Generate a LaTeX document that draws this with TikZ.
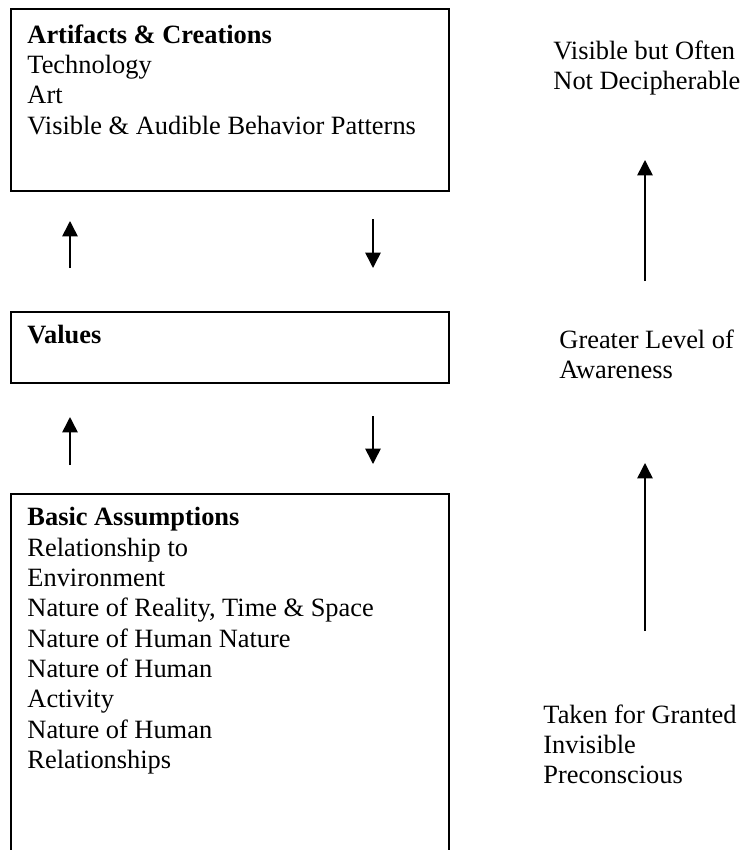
\documentclass[tikz,border=0pt]{standalone}
\usepackage{fontspec}
\setmainfont{Liberation Serif}
\usetikzlibrary{arrows.meta, positioning}

\tikzset{
  layerbox/.style={draw, line width=0.9pt, rectangle, anchor=north west, minimum width=199pt, inner sep=0pt},
  layertext/.style={anchor=north west, align=left, inner sep=0pt},
  sidetext/.style={anchor=north west, align=left, inner sep=0pt},
  flow/.style={->, line width=0.7pt}
}

\begin{document}
\begin{tikzpicture}[>={Triangle[length=7pt, width=7pt]}, x=0.4545pt, y=-0.4545pt, font=\fontsize{12}{13.8}\selectfont]
	\useasboundingbox (0,0) rectangle (744,850);
	
	% the three layers
	\node[layerbox, minimum height=82.7pt] (artifacts) at (10,8) {};
	\node[layerbox, minimum height=32.3pt] (values) at (10,311) {};
	\node[layerbox, minimum height=168pt] (assumptions) at (10,493) {};
	
	\node[layertext] (artifactstext) at (27,24) {\textbf{Artifacts \& Creations}\\Technology\\Art\\Visible \& Audible Behavior Patterns};
	\node[layertext] (valuestext) at (27,325) {\textbf{Values}};
	\node[layertext] (assumptionstext) at (27,507) {\textbf{Basic Assumptions}\\Relationship to\\Environment\\Nature of Reality, Time \& Space\\Nature of Human Nature\\Nature of Human\\Activity\\Nature of Human\\Relationships};
	
	% labels on the right
	\node[sidetext] (visible) at (553,40) {Visible but Often\\Not Decipherable};
	\node[sidetext] (greater) at (559,329) {Greater Level of\\Awareness};
	\node[sidetext] (taken) at (543,704) {Taken for Granted\\Invisible\\Preconscious};
	
	% arrows between the layers
	\coordinate (upA) at (70,268);   \coordinate (upAtip) at (70,221);
	\coordinate (downA) at (373,219); \coordinate (downAtip) at (373,268);
	\coordinate (upB) at (70,465);   \coordinate (upBtip) at (70,417);
	\coordinate (downB) at (373,416); \coordinate (downBtip) at (373,464);
	\draw[flow] (upA) -- (upAtip);
	\draw[flow] (downA) -- (downAtip);
	\draw[flow] (upB) -- (upBtip);
	\draw[flow] (downB) -- (downBtip);
	
	% awareness arrows
	\coordinate (awareA) at (645,281); \coordinate (awareAtip) at (645,160);
	\coordinate (awareB) at (645,631); \coordinate (awareBtip) at (645,463);
	\draw[flow] (awareA) -- (awareAtip);
	\draw[flow] (awareB) -- (awareBtip);
\end{tikzpicture}
\end{document}
